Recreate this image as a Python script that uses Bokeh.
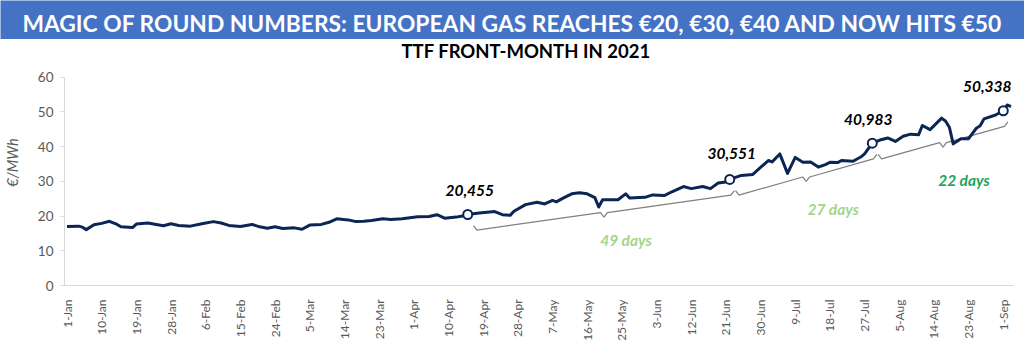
import numpy as np
import pandas as pd
from bokeh.plotting import figure
from bokeh.models import ColumnDataSource, FixedTicker, Range1d
from bokeh.layouts import column, row
from bokeh.embed import file_html
from bokeh.resources import INLINE
from bokeh.core.properties import value

TITLE = "MAGIC OF ROUND NUMBERS: EUROPEAN GAS REACHES €20, €30, €40 AND NOW HITS €50"
SUBTITLE = "TTF FRONT-MONTH IN 2021"
Y_LABEL = "€/MWh"

dates = [
    "2021-01-01", "2021-01-04", "2021-01-05", "2021-01-06", "2021-01-08", "2021-01-10",
    "2021-01-12", "2021-01-14", "2021-01-15", "2021-01-18", "2021-01-19", "2021-01-22",
    "2021-01-26", "2021-01-28", "2021-01-30", "2021-02-02", "2021-02-05", "2021-02-08",
    "2021-02-10", "2021-02-12", "2021-02-15", "2021-02-18", "2021-02-20", "2021-02-22",
    "2021-02-24", "2021-02-26", "2021-03-01", "2021-03-03", "2021-03-05", "2021-03-08",
    "2021-03-10", "2021-03-12", "2021-03-15", "2021-03-17", "2021-03-19", "2021-03-21",
    "2021-03-24", "2021-03-26", "2021-03-29", "2021-04-02", "2021-04-05", "2021-04-07",
    "2021-04-09", "2021-04-12", "2021-04-14", "2021-04-15", "2021-04-18", "2021-04-22",
    "2021-04-24", "2021-04-26", "2021-04-27", "2021-04-30", "2021-05-03", "2021-05-05",
    "2021-05-07", "2021-05-08", "2021-05-10", "2021-05-12", "2021-05-14", "2021-05-16",
    "2021-05-18", "2021-05-19", "2021-05-20", "2021-05-24", "2021-05-26", "2021-05-27",
    "2021-05-31", "2021-06-02", "2021-06-05", "2021-06-07", "2021-06-10", "2021-06-12",
    "2021-06-15", "2021-06-17", "2021-06-19", "2021-06-21", "2021-06-22", "2021-06-25",
    "2021-06-28", "2021-07-02", "2021-07-03", "2021-07-05", "2021-07-07", "2021-07-09",
    "2021-07-11", "2021-07-13", "2021-07-15", "2021-07-17", "2021-07-18", "2021-07-20",
    "2021-07-21", "2021-07-24", "2021-07-26", "2021-07-27", "2021-07-29", "2021-07-31",
    "2021-08-02", "2021-08-04", "2021-08-06", "2021-08-08", "2021-08-10", "2021-08-11",
    "2021-08-13", "2021-08-16", "2021-08-17", "2021-08-18", "2021-08-19", "2021-08-21",
    "2021-08-23", "2021-08-25", "2021-08-26", "2021-08-27", "2021-08-30", "2021-09-01",
    "2021-09-02", "2021-09-03",
]
prices = [
    17.0, 17.1, 16.8, 16.1, 17.5, 17.9,
    18.5, 17.6, 16.9, 16.7, 17.7, 18.0,
    17.2, 17.8, 17.3, 17.1, 17.8, 18.4,
    18.0, 17.3, 17.0, 17.6, 16.9, 16.5,
    16.9, 16.4, 16.6, 16.2, 17.4, 17.6,
    18.2, 19.2, 18.9, 18.4, 18.5, 18.7,
    19.2, 19.0, 19.2, 19.8, 19.9, 20.4,
    19.4, 19.7, 20.1, 20.455, 20.9, 21.3,
    20.4, 20.2, 21.4, 23.3, 24.0, 23.5,
    24.5, 24.1, 25.3, 26.4, 26.7, 26.4,
    25.3, 22.6, 24.7, 24.7, 26.4, 25.2,
    25.4, 26.1, 25.9, 27.0, 28.5, 27.9,
    28.5, 27.9, 29.5, 29.8, 30.551, 31.7,
    32.0, 36.0, 35.6, 37.9, 32.3, 36.9,
    35.5, 35.6, 34.1, 34.9, 35.5, 35.4,
    36.0, 35.8, 37.0, 37.9, 40.983, 41.9,
    42.5, 41.5, 43.0, 43.6, 43.4, 46.1,
    44.9, 48.2, 47.4, 45.6, 40.8, 42.3,
    42.3, 45.3, 46.0, 48.0, 49.1, 50.338,
    52.0, 51.5,
]

milestone_dates = ["2021-04-15", "2021-06-22", "2021-07-29", "2021-09-01"]
milestone_values = [20.455, 30.551, 40.983, 50.338]
milestone_labels = ["20,455", "30,551", "40,983", "50,338"]
gap_labels = ["49 days", "27 days", "22 days"]

tick_labels = [
    "1-Jan", "10-Jan", "19-Jan", "28-Jan", "6-Feb", "15-Feb", "24-Feb", "5-Mar",
    "14-Mar", "23-Mar", "1-Apr", "10-Apr", "19-Apr", "28-Apr", "7-May", "16-May",
    "25-May", "3-Jun", "12-Jun", "21-Jun", "30-Jun", "9-Jul", "18-Jul", "27-Jul",
    "5-Aug", "14-Aug", "23-Aug", "1-Sep",
]
y_ticks = [0, 10, 20, 30, 40, 50, 60]

# ---------- derived ----------
origin = pd.Timestamp("2021-01-01")
def day_index(ds):
    return [int((pd.Timestamp(d) - origin).days) for d in ds]

x_days = day_index(dates)
m_days = day_index(milestone_dates)
tick_days = [int((pd.to_datetime(t + "-2021", format="%d-%b-%Y") - origin).days) for t in tick_labels]

FONT = value("Lato")
NAVY = "#0B2555"
GREY_TXT = "#595959"
PAGE_W = 1024
FRAME_L, FRAME_R = 63, 11

# ---------- banner ----------
banner = figure(width=PAGE_W, height=39, x_range=Range1d(0, 1), y_range=Range1d(0, 1),
                toolbar_location=None, output_backend="svg", min_border=0,
                x_axis_location=None, y_axis_location=None)
banner.grid.visible = False
banner.background_fill_color = "#4472C4"
banner.border_fill_color = "#4472C4"
banner.outline_line_color = None
banner.text(x=[0.5], y=[0.43], text=[TITLE], text_align="center", text_baseline="middle",
            text_color="white", text_font=FONT, text_font_style="bold",
            text_font_size="22.8px")

# ---------- main chart ----------
p = figure(width=PAGE_W, height=324, x_range=Range1d(-0.65, 245.65), y_range=Range1d(0, 70.86),
           toolbar_location=None, output_backend="svg",
           min_border_left=FRAME_L, min_border_right=FRAME_R, min_border_top=0,
           min_border_bottom=78)
p.grid.visible = False
p.outline_line_color = None
p.background_fill_color = "white"
p.border_fill_color = "white"

# y axis
yax = p.yaxis[0]
yax.bounds = (0, 60)
yax.ticker = FixedTicker(ticks=y_ticks)
yax.minor_tick_line_color = None
yax.axis_line_color = "#D9D9D9"
yax.major_tick_line_color = "#D9D9D9"
yax.major_tick_out = 4
yax.major_tick_in = 0
yax.major_label_standoff = 7
yax.major_label_text_font = "Lato"
yax.major_label_text_font_size = "13.5px"
yax.major_label_text_color = GREY_TXT
yax.axis_label = Y_LABEL
yax.axis_label_text_font = "Lato"
yax.axis_label_text_font_style = "italic"
yax.axis_label_text_font_size = "14.5px"
yax.axis_label_text_color = GREY_TXT
yax.axis_label_standoff = 14

# x axis
xax = p.xaxis[0]
xax.ticker = FixedTicker(ticks=tick_days)
xax.major_label_overrides = {d: lab for d, lab in zip(tick_days, tick_labels)}
xax.major_label_orientation = np.pi / 2
xax.minor_tick_line_color = None
xax.major_tick_line_color = None
xax.axis_line_color = "#D9D9D9"
xax.major_label_standoff = 8
xax.major_label_text_font = "Lato"
xax.major_label_text_font_size = "12px"
xax.major_label_text_color = GREY_TXT

# subtitle (inside the top of the frame, above the value axis bounds)
p.text(x=[(p.x_range.start + p.x_range.end) / 2], y=[p.y_range.end - 3.2], text=[SUBTITLE],
       x_offset=-13, text_align="center", text_baseline="middle", text_color="black",
       text_font=FONT, text_font_style="bold", text_font_size="18.5px")

# braces between milestones
brace_xs, brace_ys, mids_x, mids_y = [], [], [], []
for i in range(len(gap_labels)):
    x0, x1 = m_days[i] + 1.5, m_days[i + 1] + 1.2
    y0, y1 = milestone_values[i] - 4.5, milestone_values[i + 1] - 4.5
    xm, ym = (x0 + x1) / 2, (y0 + y1) / 2
    h, w = 1.3, 0.9
    brace_xs.append([x0, x0 + w, xm - w, xm, xm + w, x1 - w, x1])
    brace_ys.append([y0 + h, y0, ym, ym - h, ym, y1, y1 + h])
    mids_x.append(xm)
    mids_y.append(ym)
p.multi_line(xs=brace_xs, ys=brace_ys, line_color="#7F7F7F", line_width=1.2)

# price line
src = ColumnDataSource(dict(x=x_days, y=prices))
p.line("x", "y", source=src, line_color=NAVY, line_width=3, line_join="round")

# milestone markers
msrc = ColumnDataSource(dict(x=m_days, y=milestone_values, label=milestone_labels,
                             dx=[2, 2, -4, -16], dy=[-24, -26, -24, -24]))
p.scatter("x", "y", source=msrc, size=9, fill_color="white", line_color=NAVY, line_width=2)
p.text("x", "y", text="label", source=msrc, x_offset="dx", y_offset="dy",
       text_align="center", text_baseline="middle", text_color="black",
       text_font=FONT, text_font_style="bold italic", text_font_size="15.5px")

# gap labels
gsrc = ColumnDataSource(dict(x=mids_x, y=mids_y, label=gap_labels,
                             color=["#A3D48C", "#A3D48C", "#1FA35B"],
                             dx=[22, 27, 21], dy=[27, 32, 37]))
p.text("x", "y", text="label", source=gsrc, x_offset="dx", y_offset="dy",
       text_align="center", text_baseline="middle", text_color="color",
       text_font=FONT, text_font_style="bold italic", text_font_size="15.5px")

# banner wrapped in its own row so its frame is not aligned to the chart frame
layout = column(row(banner), p, spacing=0)
open("out.html", "w").write(file_html(layout, INLINE))
